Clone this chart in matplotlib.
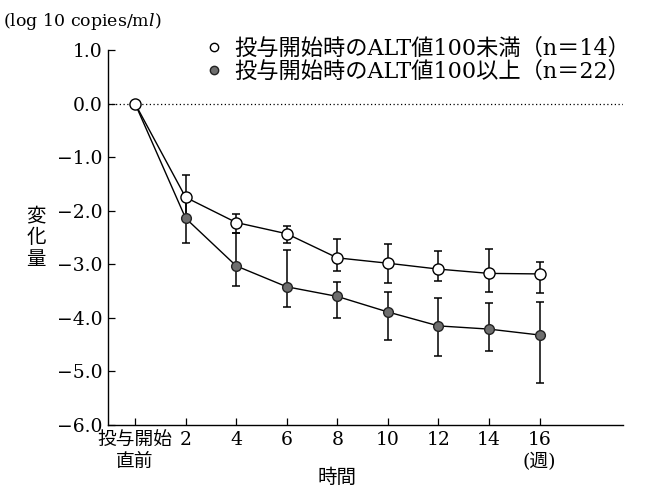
import matplotlib
matplotlib.use("Agg")
import matplotlib.pyplot as plt
from matplotlib.lines import Line2D

plt.rcParams['font.family'] = ['DejaVu Serif', 'Noto Sans CJK JP']
plt.rcParams['mathtext.fontset'] = 'custom'
plt.rcParams['mathtext.rm'] = 'DejaVu Serif'
plt.rcParams['mathtext.it'] = 'DejaVu Serif:italic'
plt.rcParams['axes.unicode_minus'] = True

# --- data (log10 copies/ml change from baseline) ---
weeks = [0, 2, 4, 6, 8, 10, 12, 14, 16]
tick_labels = ["投与開始\n直前", "2", "4", "6", "8", "10", "12", "14", "16\n(週)"]
y_ticks = [1.0, 0.0, -1.0, -2.0, -3.0, -4.0, -5.0, -6.0]

low_label = "投与開始時のALT値100未満（n＝14）"
low_mean = [0.0, -1.75, -2.22, -2.43, -2.88, -2.98, -3.09, -3.17, -3.18]
low_upper = [0.0, -1.33, -2.06, -2.28, -2.52, -2.62, -2.75, -2.72, -2.96]
low_lower = [0.0, -2.17, -2.42, -2.60, -3.12, -3.34, -3.31, -3.52, -3.53]

high_label = "投与開始時のALT値100以上（n＝22）"
high_mean = [0.0, -2.14, -3.03, -3.42, -3.60, -3.89, -4.15, -4.21, -4.32]
high_upper = [0.0, -1.67, -2.42, -2.73, -3.33, -3.52, -3.63, -3.72, -3.70]
high_lower = [0.0, -2.61, -3.41, -3.80, -4.01, -4.41, -4.72, -4.61, -5.22]


def err(mean, upper, lower):
    down = [m - lo for m, lo in zip(mean, lower)]
    up = [u - m for m, u in zip(mean, upper)]
    return [down[1:], up[1:]]


fig = plt.figure(figsize=(6.68, 4.87), dpi=100)
ax = fig.add_axes([108 / 668, 1 - 425 / 487, (623 - 108) / 668, (425 - 50) / 487])
ax.set_xlim(-1.07, 19.3)
ax.set_ylim(-6, 1)

ax.axhline(0, color="black", ls=(0, (1, 2)), lw=0.9, zorder=1)

# filled series (ALT >= 100)
ax.errorbar(weeks[1:], high_mean[1:], yerr=err(high_mean, high_upper, high_lower),
            fmt="none", ecolor="black", elinewidth=1.1, capsize=3, capthick=1.1, zorder=2)
ax.plot(weeks, high_mean, "-", color="black", lw=1, marker="o",
        mfc="#6e6e6e", mec="#222222", ms=7, mew=1, zorder=3)

# open series (ALT < 100)
ax.errorbar(weeks[1:], low_mean[1:], yerr=err(low_mean, low_upper, low_lower),
            fmt="none", ecolor="black", elinewidth=1.1, capsize=3, capthick=1.1, zorder=2)
ax.plot(weeks, low_mean, "-", color="black", lw=1, marker="o",
        mfc="white", mec="black", ms=8, mew=1, zorder=4)

ax.spines["top"].set_visible(False)
ax.spines["right"].set_visible(False)
ax.spines["left"].set_linewidth(1.0)
ax.spines["bottom"].set_linewidth(1.0)

ax.set_xticks(weeks)
ax.set_xticklabels(tick_labels, linespacing=1.3)
ax.set_yticks(y_ticks)
ax.set_yticklabels([f"{v:.1f}".replace("-", "\u2212") for v in y_ticks])
ax.tick_params(direction="in", length=5, width=0.9, labelsize=13.5, pad=4)

ax.text(8, -0.14, "時間", transform=ax.get_xaxis_transform(),
        ha="center", va="center", fontsize=14)
fig.text(36 / 668, 1 - 238 / 487, "変\n化\n量", ha="center", va="center",
         fontsize=14, linespacing=1.25)
fig.text(3 / 668, 1 - 22 / 487, r"(log 10 copies/m$\mathit{l}$)", ha="left",
         va="center", fontsize=12.5)

handles = [
    Line2D([], [], ls="none", marker="o", mfc="white", mec="black", ms=6, mew=1),
    Line2D([], [], ls="none", marker="o", mfc="#6e6e6e", mec="#222222", ms=6, mew=1),
]
ax.legend(handles, [low_label, high_label], loc="upper left",
          bbox_to_anchor=(205 / 668, 1 - 38 / 487), bbox_transform=fig.transFigure,
          frameon=False, fontsize=16, handlelength=0.8, handletextpad=0.5,
          labelspacing=0.05, borderpad=0, borderaxespad=0)

fig.savefig("out.png", dpi=100)
